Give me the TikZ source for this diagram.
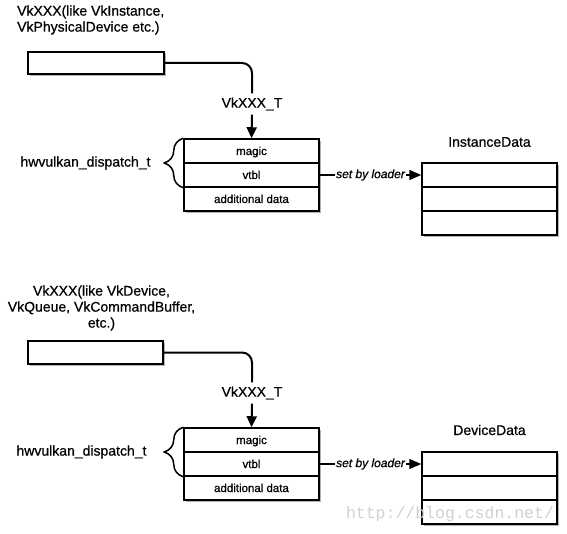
\documentclass[tikz,border=0pt]{standalone}
\usepackage{fontspec}
\setmainfont{Liberation Sans}[FakeBold=0.6]
\newfontfamily\wmfont{Liberation Mono}
\usetikzlibrary{arrows.meta,decorations.pathreplacing}
\begin{document}
\begin{tikzpicture}[x=1pt,y=-1pt,
  title/.style={font=\fontsize{14}{16}\selectfont, inner sep=0pt},
  lbl/.style={font=\fontsize{14}{16}\selectfont, inner sep=4pt},
  cell/.style={draw, line width=1.5pt, minimum width=135pt, minimum height=24pt, inner sep=0pt,
    text height=10pt, text depth=2pt, font=\fontsize{11.5}{13}\selectfont, fill=white},
  handle/.style={draw, line width=1.5pt, minimum width=136pt, minimum height=22pt, inner sep=0pt, fill=white},
  conn/.style={line width=2pt, rounded corners=10pt},
  arr/.style={line width=2pt, -{Triangle[width=10pt,length=11pt]}},
  sarr/.style={line width=1.5pt, -{Triangle[width=10pt,length=12pt]}},
  loaderlbl/.style={fill=white, inner sep=1pt, font=\itshape\fontsize{12}{14}\selectfont},
  bracestyle/.style={line width=1.5pt, decorate, decoration={brace, amplitude=19pt}},
  shade/.style={fill=black!30},
  wm/.style={text=black!18, font=\wmfont\fontsize{16.5}{18}\selectfont, inner sep=0pt}
]
\useasboundingbox (0,0) rectangle (567,534);

% ---------- top section ----------
\node[title, align=left, anchor=west] (tt1) at (17,20) {VkXXX(like VkInstance,\\VkPhysicalDevice etc.)};
\fill[shade] (30,54) rectangle (166,76);
\node[handle] (h1) at (96,63) {};
\node[lbl] (k1) at (252,104) {VkXXX\_T};
\draw[conn] (h1.east) -| (k1.north);

\fill[shade] (186,141) rectangle (321,213);
\node[cell] (m1) at (251.5,151) {magic};
\node[cell] (v1) at (251.5,175) {vtbl};
\node[cell] (a1) at (251.5,199) {additional data};
\draw[arr] (k1.south) -- (m1.north);
\draw[bracestyle] (v1.south west) -- (m1.north west);
\node[title] (hd1) at (85.5,163) {hwvulkan\_dispatch\_t};

\node[title] (it1) at (489.5,142) {InstanceData};
\fill[shade] (424,165) rectangle (559,237);
\node[cell] (i1) at (489.5,175) {};
\node[cell] (i2) at (489.5,199) {};
\node[cell] (i3) at (489.5,223) {};
\draw[sarr] (v1.east) -- node[loaderlbl] (sl1) {set by loader} (i1.west);

% ---------- bottom section ----------
\node[title, align=center] (tt2) at (101.5,308) {VkXXX(like VkDevice,\\VkQueue, VkCommandBuffer,\\etc.)};
\fill[shade] (30,343) rectangle (165,366);
\node[handle, minimum width=135pt, minimum height=23pt] (h2) at (95.5,352.5) {};
\node[lbl] (k2) at (252,393) {VkXXX\_T};
\draw[conn] (h2.east) -| (k2.north);

\fill[shade] (186,430) rectangle (321,502);
\node[cell] (m2) at (251.5,440) {magic};
\node[cell] (v2) at (251.5,464) {vtbl};
\node[cell] (a2) at (251.5,488) {additional data};
\draw[arr] (k2.south) -- (m2.north);
\draw[bracestyle] (v2.south west) -- (m2.north west);
\node[title] (hd2) at (81.5,452) {hwvulkan\_dispatch\_t};

\node[title] (dt2) at (489.5,430) {DeviceData};
\fill[shade] (424,454) rectangle (559,526);
\node[cell] (d1) at (489.5,464) {};
\node[cell] (d2) at (489.5,488) {};
\node[cell] (d3) at (489.5,512) {};
\draw[sarr] (v2.east) -- node[loaderlbl] (sl2) {set by loader} (d1.west);

\node[wm] (wm1) at (450,514) {http://blog.csdn.net/};
\end{tikzpicture}
\end{document}
